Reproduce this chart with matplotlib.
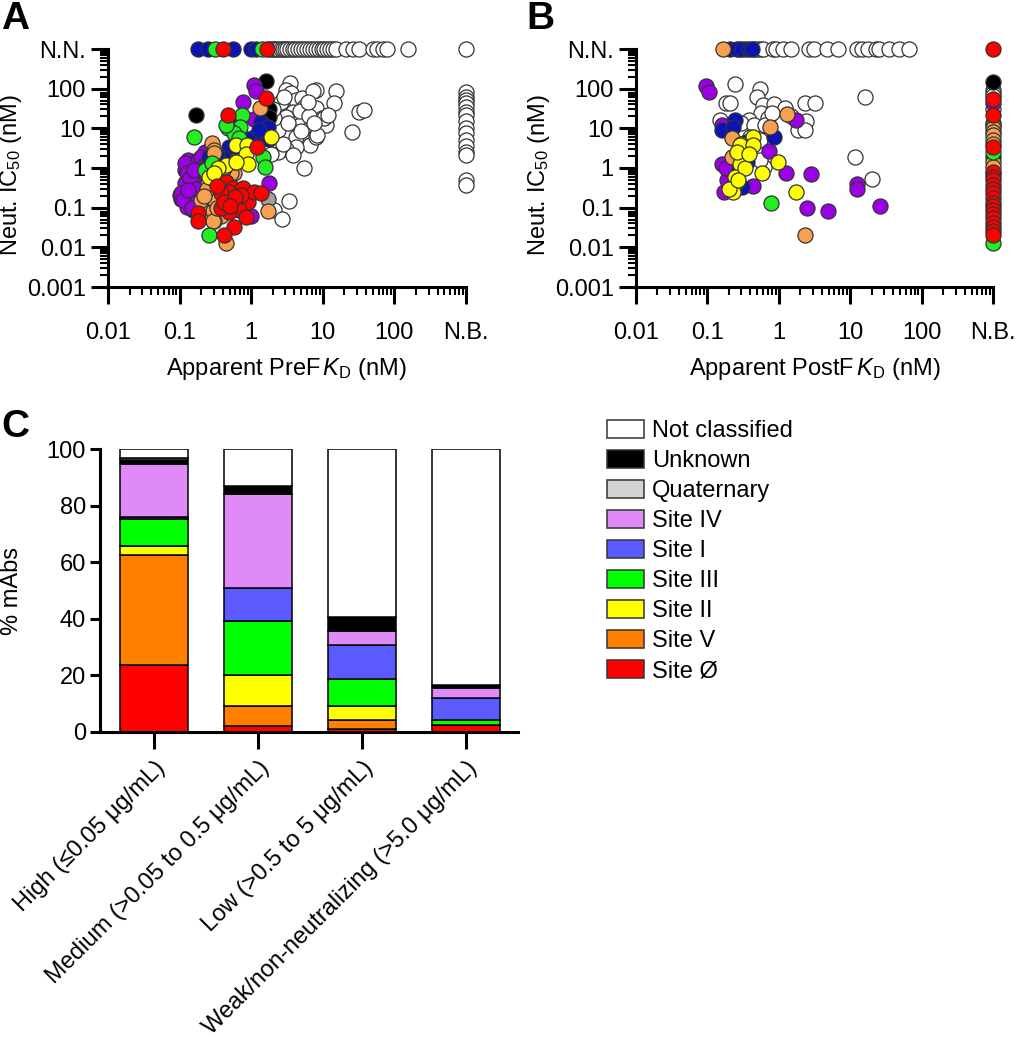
import matplotlib
matplotlib.use('Agg')
from matplotlib import pyplot as plt
from matplotlib.patches import Patch
import numpy as np

plt.rcParams['font.family'] = ['Liberation Sans', 'DejaVu Sans']
plt.rcParams['mathtext.fontset'] = 'custom'
plt.rcParams['mathtext.rm'] = 'Liberation Sans'
plt.rcParams['mathtext.it'] = 'Liberation Sans:italic'

NN = 1000  # not neutralizing
NB = 1000  # no binding

# ---- panel A: PreF KD (nM) vs IC50 (nM) ----
a_white = [(1.8, NN), (1.95, NN), (2.1, NN), (2.25, NN), (2.4, NN), (2.6, NN), (2.8, NN), (3.0, NN),
           (3.2, NN), (3.5, NN), (3.8, NN), (4.1, NN), (4.5, NN), (5.0, NN), (5.5, NN), (6.0, NN),
           (6.6, NN), (7.2, NN), (8.0, NN), (8.8, NN), (9.6, NN), (10.5, NN), (11.5, NN), (12.5, NN),
           (14, NN), (15.5, NN), (21, NN), (26, NN), (32, NN), (50, NN), (58, NN), (69, NN), (78, NN),
           (155, NN), (NB, NN),
           (NB, 81), (NB, 63), (NB, 51), (NB, 43), (NB, 35), (NB, 26), (NB, 22), (NB, 15), (NB, 10),
           (NB, 7.5), (NB, 5.1), (NB, 3.5), (NB, 2.6), (NB, 2.1), (NB, 0.5), (NB, 0.37),
           (3.5, 136), (3.05, 92), (3.6, 76), (4.2, 52), (5.2, 57), (5.5, 35), (8.0, 92), (7.2, 85),
           (15.3, 85), (14.3, 43), (8.0, 32), (9.9, 18), (11, 12.1), (25.7, 8.2), (5.8, 12.1), (4.6, 18),
           (3.8, 26), (3.05, 19.7), (2.46, 12.1), (3.05, 8.2), (4.2, 6.2), (6.7, 3.8), (4.2, 3.4),
           (3.05, 3.1), (2.33, 2.6), (3.8, 2.1), (5.5, 1.0), (8.0, 6.2), (2.2, 5.1), (2.33, 9.1),
           (2.1, 18), (32, 26), (38, 29.5), (10.5, 18), (8.4, 6.8), (3.4, 0.15), (2.1, 0.087),
           (2.7, 0.051), (2.6, 45), (2.9, 60), (4.8, 28), (6.5, 20), (3.3, 14), (2.8, 4.0), (5.0, 8.5),
           (7.5, 14), (12, 22), (2.0, 30), (6.2, 45), (1.9, 2.2)]
a_black = [(1.6, 155), (0.17, 22), (1.8, 30), (1.75, 19)]
a_gray = [(1.69, 0.17)]
a_purple = [(1.08, 123), (1.16, 87), (0.78, 47), (1.1, 17), (0.23, 2.6), (1.8, 0.41), (0.13, 1.59),
            (0.118, 0.89), (0.155, 0.67), (0.112, 0.25), (0.106, 0.17), (0.126, 0.106), (0.155, 0.087),
            (0.147, 0.34), (0.20, 0.45), (0.19, 1.3), (0.17, 0.19), (0.21, 0.23), (0.16, 1.19),
            (0.118, 0.41), (0.14, 0.16), (0.10, 0.21), (0.23, 0.73), (1.0, 0.06), (0.118, 1.33),
            (0.125, 0.74), (0.106, 0.23), (0.112, 0.16), (0.15, 0.1), (0.18, 1.6), (0.2, 1.93),
            (0.14, 0.55), (0.17, 0.3), (0.13, 0.28), (0.22, 1.1), (0.16, 0.9), (0.6, 15), (0.35, 1.8),
            (0.25, 1.5)]
a_blue = [(0.18, NN), (0.25, NN), (0.55, NN), (1.0, NN), (1.17, NN),
          (1.37, 14.6), (1.69, 11), (0.58, 13.4), (1.1, 6.2), (0.49, 3.4), (0.40, 1.93), (0.26, 1.93),
          (0.9, 5.5), (0.7, 3.0), (1.8, 5.5), (0.33, 2.2), (1.3, 9)]
a_orange = [(1.34, 32), (0.28, 4.2), (0.30, 2.85), (0.58, 0.73), (0.34, 0.67), (0.30, 2.35), (0.36, 0.67),
            (0.52, 0.73), (0.26, 0.28), (0.23, 0.13), (0.21, 0.087), (0.29, 0.072), (0.38, 0.06),
            (0.30, 0.045), (0.44, 0.0129), (0.34, 0.23), (0.44, 0.28), (0.42, 0.16), (0.32, 0.41),
            (0.25, 0.41), (0.2, 0.16), (0.55, 0.13), (1.69, 0.084), (0.19, 0.06), (0.36, 0.117),
            (0.29, 0.081), (0.29, 0.045), (0.27, 0.19), (0.31, 0.15), (0.24, 0.3), (0.35, 0.33),
            (0.28, 0.55), (0.4, 0.9), (0.22, 0.2), (0.33, 0.1)]
a_green = [(0.31, NN), (1.4, NN),
           (0.74, 22), (0.69, 11), (0.47, 10), (0.16, 5.9), (0.58, 7.5), (0.68, 5.6), (1.44, 1.93),
           (1.57, 1.08), (0.26, 0.021), (0.23, 0.89), (0.28, 1.3), (0.45, 12)]
a_yellow = [(1.92, 6.2), (0.61, 3.8), (0.86, 3.8), (0.84, 2.25), (0.60, 1.4), (0.89, 1.24), (0.42, 1.08),
            (0.27, 0.6), (0.44, 1.19), (0.61, 1.44), (0.26, 0.6), (0.34, 1.0), (0.3, 0.75)]
a_red = [(0.41, NN), (1.67, NN),
         (1.6, 57), (0.48, 22), (1.22, 3.4), (0.44, 0.45), (0.55, 0.31), (0.76, 0.31), (0.49, 0.25),
         (0.64, 0.14), (0.89, 0.14), (0.52, 0.16), (0.68, 0.087), (0.49, 0.079), (0.38, 0.098),
         (0.84, 0.058), (0.58, 0.033), (0.42, 0.021), (0.18, 0.072), (0.18, 0.045), (1.1, 0.25),
         (1.37, 0.24), (0.38, 0.23), (0.42, 0.14), (0.72, 0.21), (0.6, 0.19), (0.33, 0.35), (0.5, 0.11)]

# ---- panel B: PostF KD (nM) vs IC50 (nM) ----
b_white = [(0.28, NN), (0.35, NN), (0.45, NN), (0.50, NN), (0.56, NN), (0.6, NN), (0.82, NN), (0.91, NN),
           (1.13, NN), (1.47, NN), (2.66, NN), (3.1, NN), (4.8, NN), (6.8, NN), (12.6, NN), (14.8, NN),
           (17.5, NN), (22.7, NN), (25.4, NN), (35, NN), (48.6, NN), (67, NN),
           (0.245, 128), (0.55, 96), (0.50, 63), (0.18, 43), (0.21, 43), (0.60, 39), (0.86, 41),
           (1.22, 32), (2.3, 43), (3.2, 43), (16, 63), (0.56, 24), (0.38, 16), (0.15, 16), (2.4, 15.6),
           (1.83, 9.1), (2.33, 9.1), (0.50, 9.1), (0.59, 2.6), (0.62, 1.08), (11.7, 1.93), (20, 0.52),
           (0.3, 14), (0.45, 12), (0.7, 18), (0.4, 6), (0.55, 5), (0.65, 12), (0.8, 25), (1.5, 20),
           (0.55, 1.6), (0.33, 3.2),
           (NB, 92), (NB, 76), (NB, 65), (NB, 30), (NB, 13.4)]
b_black = [(NB, 150)]
b_purple = [(0.097, 117), (0.106, 84), (1.73, 16), (0.16, 12), (0.72, 2.7), (0.16, 1.26), (1.25, 0.74),
            (2.87, 0.69), (0.43, 0.35), (0.17, 0.25), (0.19, 0.5), (2.47, 0.096), (4.96, 0.084),
            (12.3, 0.40), (12.3, 0.29), (26, 0.11), (NB, 43), (0.18, 1.0)]
b_blue = [(0.21, NN), (0.26, NN), (0.31, NN), (0.38, NN), (0.42, NN),
          (0.24, 16), (0.16, 9.1), (0.23, 11), (0.86, 6.1), (0.36, 1.44), (0.31, 0.34), (0.3, 2.5),
          (0.35, 4.5), (0.28, 0.9), (NB, 1.9)]
b_orange = [(0.166, NN), (1.29, 23), (0.75, 11), (0.22, 5.6), (0.22, 1.93), (0.245, 0.39), (2.33, 0.021),
            (NB, 12), (NB, 10), (NB, 8.2), (NB, 6.8), (NB, 5.1), (NB, 4.0), (NB, 1.4), (NB, 1.08),
            (NB, 0.73)]
b_green = [(0.77, 0.13), (NB, 2.6), (NB, 0.0126)]
b_yellow = [(0.44, 6.1), (0.30, 4.0), (0.29, 3.8), (0.43, 3.8), (0.29, 1.26), (0.96, 1.39), (0.59, 0.74),
            (0.24, 0.60), (0.34, 0.98), (0.23, 0.25), (1.73, 0.25), (0.26, 2.6), (0.38, 2.2), (0.2, 0.3),
            (0.27, 0.5)]
b_red = [(NB, NN), (NB, 55), (NB, 22), (NB, 3.4), (NB, 0.8), (NB, 0.6), (NB, 0.5), (NB, 0.37), (NB, 0.3),
         (NB, 0.23), (NB, 0.18), (NB, 0.13), (NB, 0.11), (NB, 0.087), (NB, 0.07), (NB, 0.054),
         (NB, 0.042), (NB, 0.033), (NB, 0.026), (NB, 0.02)]

# ---- panel C: % of mAbs per potency bin ----
potency = ['High (≤0.05 μg/mL)', 'Medium (>0.05 to 0.5 μg/mL)',
           'Low (>0.5 to 5 μg/mL)', 'Weak/non-neutralizing (>5.0 μg/mL)']
sites = ['Site Ø', 'Site V', 'Site II', 'Site III', 'Site I', 'Site IV',
         'Unknown', 'Quaternary', 'Not classified']
site_colors = ['#ff0000', '#ff8000', '#ffff00', '#00ff00', '#5a5aff', '#df8af7',
               '#000000', '#d3d3d3', '#ffffff']
pct_high = [23.6, 39.1, 3.2, 9.2, 0.9, 18.6, 1.4, 0.9, 3.1]
pct_medium = [2.2, 7.1, 10.7, 19.1, 11.8, 33.3, 2.7, 0.0, 13.1]
pct_low = [1.2, 3.2, 4.7, 9.6, 12.2, 4.8, 5.0, 0.0, 59.3]
pct_weak = [2.6, 0.0, 0.0, 1.5, 7.9, 3.7, 0.9, 0.0, 83.4]
legend_order = ['Not classified', 'Unknown', 'Quaternary', 'Site IV', 'Site I',
                'Site III', 'Site II', 'Site V', 'Site Ø']

# scatter group colours, drawn in this order
groups_a = [(a_white, 'white'), (a_black, 'black'), (a_gray, '#a0a0a0'), (a_purple, '#9b00e6'),
            (a_blue, '#0a14b4'), (a_orange, '#f7a04f'), (a_green, '#22ee22'),
            (a_yellow, '#ffff00'), (a_red, '#ff0000')]
groups_b = [(b_white, 'white'), (b_black, 'black'), (b_purple, '#9b00e6'), (b_blue, '#0a14b4'),
            (b_orange, '#f7a04f'), (b_green, '#22ee22'), (b_yellow, '#ffff00'), (b_red, '#ff0000')]

W, H = 1017, 1050
fig = plt.figure(figsize=(W / 100, H / 100), dpi=100)

def px_axes(x0, x1, y_top, y_bot):
    return fig.add_axes([x0 / W, 1 - y_bot / H, (x1 - x0) / W, (y_bot - y_top) / H])

def scatter_panel(ax, groups, xlabel):
    for pts, col in groups:
        pts = np.array(pts, dtype=float)
        ax.scatter(pts[:, 0], pts[:, 1], s=118, c=col, edgecolors='#333333',
                   linewidths=0.9, clip_on=False, zorder=3)
    ax.set_xscale('log')
    ax.set_yscale('log')
    ax.set_xlim(0.01, 1000)
    ax.set_ylim(0.001, 1000)
    ax.set_xticks([0.01, 0.1, 1, 10, 100, 1000], ['0.01', '0.1', '1', '10', '100', 'N.B.'])
    ax.set_yticks([0.001, 0.01, 0.1, 1, 10, 100, 1000],
                  ['0.001', '0.01', '0.1', '1', '10', '100', 'N.N.'])
    for s in ['top', 'right']:
        ax.spines[s].set_visible(False)
    for s in ['left', 'bottom']:
        ax.spines[s].set_linewidth(2.2)
    ax.tick_params(which='major', length=12, width=2.2, labelsize=17)
    ax.tick_params(which='minor', length=6, width=1.5)
    ax.tick_params(axis='x', which='major', pad=13)
    ax.tick_params(axis='y', which='major', pad=4)
    ax.set_xlabel(xlabel, fontsize=17)
    ax.set_ylabel('Neut. IC$_{50}$ (nM)', fontsize=17)
    ax.xaxis.set_label_coords(0.5, -0.29)
    ax.yaxis.set_label_coords(-0.235, 0.47)

axA = px_axes(108, 466, 49, 287)
scatter_panel(axA, groups_a, 'Apparent PreF$\\,\\mathit{K}_\\mathrm{D}$ (nM)')
axB = px_axes(636, 993, 49, 287)
scatter_panel(axB, groups_b, 'Apparent PostF$\\,\\mathit{K}_\\mathrm{D}$ (nM)')

axC = px_axes(100, 518, 449, 732)
table = np.array([pct_high, pct_medium, pct_low, pct_weak])
xpos = np.arange(len(potency))
bottom = np.zeros(len(potency))
for i, site in enumerate(sites):
    axC.bar(xpos, table[:, i], 0.66, bottom=bottom, color=site_colors[i],
            edgecolor='black', linewidth=1.1, label=site)
    bottom += table[:, i]
axC.set_xlim(-0.52, 3.5)
axC.set_ylim(0, 100)
axC.set_yticks([0, 20, 40, 60, 80, 100])
axC.set_xticks(xpos)
axC.set_xticklabels(potency, rotation=45, ha='right', rotation_mode='anchor')
for s in ['top', 'right']:
    axC.spines[s].set_visible(False)
for s in ['left', 'bottom']:
    axC.spines[s].set_linewidth(2.2)
axC.tick_params(axis='y', length=7, width=2.2, labelsize=17, pad=3)
axC.tick_params(axis='x', length=12, width=2.2, labelsize=17, pad=6)
axC.set_ylabel('% mAbs', fontsize=17)
axC.yaxis.set_label_coords(-0.185, 0.5)

handles = [Patch(facecolor=site_colors[sites.index(n)], edgecolor='#333333', linewidth=1.1, label=n)
           for n in legend_order]
fig.legend(handles=handles, loc='upper left', bbox_to_anchor=(607 / W, 1 - 420 / H),
           frameon=False, fontsize=17, handlelength=1.55, handleheight=0.8,
           handletextpad=0.35, labelspacing=0.33, borderpad=0, borderaxespad=0)

fig.text(1 / W, 1 - 1 / H, 'A', fontsize=28, fontweight='bold', va='top', ha='left')
fig.text(526 / W, 1 - 1 / H, 'B', fontsize=28, fontweight='bold', va='top', ha='left')
fig.text(1 / W, 1 - 409 / H, 'C', fontsize=28, fontweight='bold', va='top', ha='left')

fig.savefig('out.png', dpi=100)
